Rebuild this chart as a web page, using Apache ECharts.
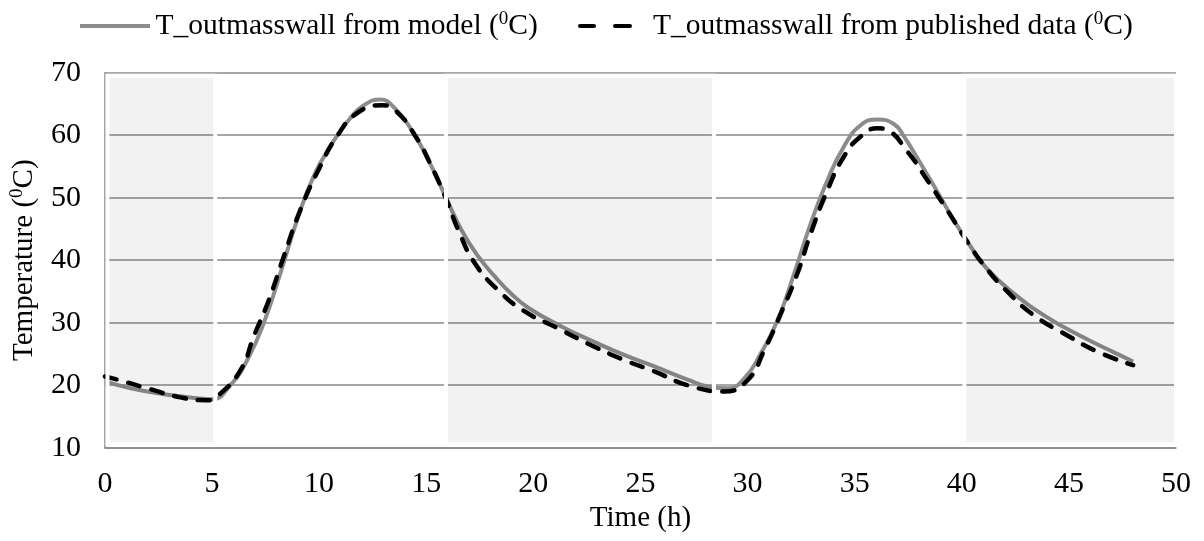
<!DOCTYPE html>
<html>
<head>
<meta charset="utf-8">
<script src="https://cdn.jsdelivr.net/npm/echarts@6/dist/echarts.min.js"></script>
<style>html,body{margin:0;padding:0;background:#fff}#c{width:1204px;height:541px}</style>
</head>
<body>
<div id="c"></div>
<script>
// Time (h) and temperature (°C)
var modelTime = [0, 1.2, 2.76, 4.31, 5.0, 5.86, 6.64, 7.41, 8.19, 8.97, 9.74, 10.52, 11.45, 12.23, 12.85, 13.54, 14.32, 15.1, 15.87, 16.65, 17.43, 18.2, 18.98, 19.76, 21.31, 22.86, 24.41, 25.65, 27.2, 28.14, 29.07, 29.85, 30.62, 31.4, 32.18, 32.95, 33.73, 34.5, 35.28, 36.06, 36.83, 37.3, 38.07, 38.85, 39.63, 40.41, 41.18, 42.42, 43.97, 45.53, 47.08, 48.0];
var modelTemp = [20.6, 19.5, 18.55, 17.9, 17.75, 20.0, 24.0, 29.9, 37.9, 46.4, 53.4, 58.2, 62.7, 65.1, 65.7, 64.3, 60.8, 56.0, 50.4, 44.8, 40.6, 37.4, 34.6, 32.4, 29.4, 26.9, 24.6, 23.0, 20.9, 19.8, 19.5, 21.1, 25.1, 30.4, 37.9, 45.9, 52.8, 58.2, 61.6, 62.5, 61.8, 59.8, 55.5, 51.0, 46.4, 42.2, 38.6, 34.7, 30.9, 27.9, 25.3, 23.8];

var pubTime = [0, 0.58, 1.98, 3.53, 4.77, 5.24, 6.33, 6.95, 7.65, 8.35, 9.12, 10.05, 10.83, 11.76, 12.93, 13.54, 14.47, 15.25, 15.95, 16.5, 17.27, 18.36, 19.6, 21.15, 22.7, 24.26, 25.65, 27.2, 28.91, 30.0, 30.78, 31.56, 32.33, 32.95, 33.73, 34.5, 35.28, 36.06, 36.52, 37.46, 38.39, 39.32, 40.25, 41.03, 42.12, 43.36, 44.91, 46.31, 48.0];
var pubTemp = [21.4, 20.9, 19.5, 18.05, 17.6, 18.2, 22.4, 27.8, 33.6, 40.6, 48.0, 55.0, 59.8, 63.5, 64.8, 64.0, 60.0, 55.0, 49.6, 44.8, 39.5, 35.2, 31.8, 29.1, 26.4, 24.0, 22.2, 20.0, 19.0, 20.8, 25.6, 31.5, 37.9, 44.3, 51.2, 56.6, 59.8, 61.1, 60.8, 57.4, 52.8, 48.0, 43.0, 39.2, 35.0, 31.2, 28.0, 25.4, 23.2];

// Shaded periods (h)
var bandStart = [0.12, 15.92, 40.12];
var bandEnd = [5.15, 28.43, 50];

var xTicks = [0, 5, 10, 15, 20, 25, 30, 35, 40, 45, 50];
var yTicks = [10, 20, 30, 40, 50, 60, 70];

var modelName = 'T_outmasswall from model';
var pubName = 'T_outmasswall from published data';

function pairs(a, b) { return a.map(function (v, i) { return [v, b[i]]; }); }

var FONT = 'Liberation Serif';
var legendRich = {
  a: { fontFamily: FONT, fontSize: 29.5, color: '#000', lineHeight: 34 },
  s: { fontFamily: FONT, fontSize: 19, color: '#000', lineHeight: 34, padding: [0, 0, 13, 0] }
};
var nameRich = {
  a: { fontFamily: FONT, fontSize: 29, color: '#000', lineHeight: 34 },
  s: { fontFamily: FONT, fontSize: 19, color: '#000', lineHeight: 34, padding: [0, 0, 13, 0] }
};
function supLabel(base) { return '{a|' + base + ' (}{s|0}{a|C)}'; }

var bands = bandStart.map(function (s, i) {
  return [{ coord: [s, 69.5] }, { coord: [bandEnd[i], 10.6] }];
});

var chart = echarts.init(document.getElementById('c'), null, { renderer: 'canvas' });
chart.setOption({
  animation: false,
  backgroundColor: '#fff',
  grid: { left: 102.5, right: 28, top: 72.7, bottom: 93.3, containLabel: false },
  legend: [
    {
      data: [modelName], left: 75, top: 5, itemWidth: 71, itemHeight: 4, itemGap: 5,
      icon: 'path://M0,0 L70,0 L70,4 L0,4 Z',
      formatter: function (n) { return supLabel(n); },
      textStyle: { rich: legendRich }
    },
    {
      data: [pubName], left: 573, top: 5, itemWidth: 54, itemHeight: 5,
      icon: 'path://M2,0 L16,0 A2,2 0 0 1 16,4 L2,4 A2,2 0 0 1 2,0 Z M37,0 L52,0 A2,2 0 0 1 52,4 L37,4 A2,2 0 0 1 37,0 Z',
      formatter: function (n) { return supLabel(n); },
      textStyle: { rich: legendRich, padding: [0, 0, 0, 16] }
    }
  ],
  xAxis: {
    type: 'value', min: 0, max: 50, interval: 5,
    name: 'Time (h)', nameLocation: 'middle', nameGap: 55,
    nameTextStyle: { fontFamily: FONT, fontSize: 29, color: '#000', verticalAlign: 'top' },
    axisLine: { show: true, lineStyle: { color: '#8a8a8a', width: 1.5 } },
    axisTick: { show: false },
    splitLine: { show: false },
    axisLabel: {
      margin: 21, fontFamily: FONT, fontSize: 30, color: '#000',
      formatter: function (v) { return xTicks.indexOf(v) >= 0 ? String(v) : ''; }
    }
  },
  yAxis: {
    type: 'value', min: 10, max: 70, interval: 10,
    name: supLabel('Temperature'), nameLocation: 'middle', nameGap: 62, nameRotate: 90,
    nameTextStyle: { rich: nameRich },
    axisLine: { show: true, lineStyle: { color: '#8a8a8a', width: 1.5 } },
    axisTick: { show: false },
    splitLine: { show: true, lineStyle: { color: '#8a8a8a', width: 1.5 } },
    axisLabel: {
      margin: 24, fontFamily: FONT, fontSize: 30, color: '#000',
      formatter: function (v) { return yTicks.indexOf(v) >= 0 ? String(v) : ''; }
    }
  },
  series: [
    {
      name: modelName, type: 'line', data: pairs(modelTime, modelTemp),
      smooth: 0.5, symbol: 'none', z: 2,
      lineStyle: { color: '#8c8c8c', width: 4 },
      itemStyle: { color: '#8c8c8c' }
    },
    {
      name: pubName, type: 'line', data: pairs(pubTime, pubTemp),
      smooth: 0.5, symbol: 'none', z: 3,
      lineStyle: { color: '#000', width: 4.5, type: [12, 12], cap: 'round' },
      itemStyle: { color: '#000' }
    },
    {
      name: 'bands', type: 'line', data: [], z: 5, silent: true,
      markArea: {
        silent: true, z: 5,
        itemStyle: { color: 'rgba(0,0,0,0.05)', borderColor: '#fff', borderWidth: 4 },
        data: bands
      }
    }
  ]
});
</script>
</body>
</html>
